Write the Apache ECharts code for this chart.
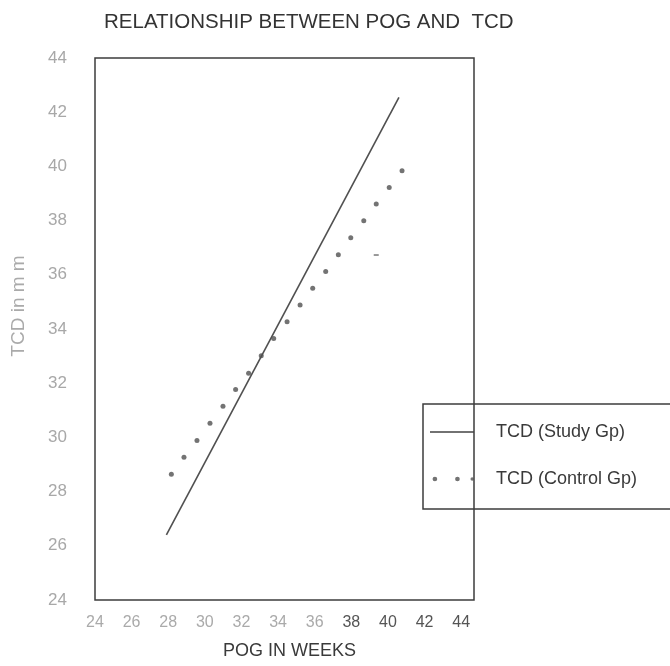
<!DOCTYPE html>
<html>
<head>
<meta charset="utf-8">
<script src="https://cdn.jsdelivr.net/npm/echarts@6/dist/echarts.min.js"></script>
<style>
html,body{margin:0;padding:0;background:#fff;}
#chart{width:670px;height:666px;}
</style>
</head>
<body>
<div id="chart"></div>
<script>
// Data
var titleText = 'RELATIONSHIP BETWEEN POG AND  TCD';
var xName = 'POG IN WEEKS';
var yName = 'TCD in m m';
var seriesNames = ['TCD (Study Gp)', 'TCD (Control Gp)'];

// Study group regression line (POG weeks, TCD mm)
var studyX = [27.9, 40.6];
var studyY = [26.4, 42.55];

// Control group dotted line (POG weeks, TCD mm)
var controlX = [28.17, 28.86, 29.57, 30.28, 30.99, 31.68, 32.39, 33.08, 33.76, 34.49,
                35.20, 35.89, 36.60, 37.29, 37.97, 38.68, 39.36, 40.07, 40.77];
var controlY = [28.64, 29.27, 29.89, 30.52, 31.15, 31.77, 32.37, 33.01, 33.65, 34.27,
                34.89, 35.50, 36.12, 36.74, 37.37, 37.99, 38.61, 39.22, 39.84];

// small stray mark in the original
var strayX = [39.36];
var strayY = [36.73];

var xTicks = [24, 26, 28, 30, 32, 34, 36, 38, 40, 42, 44];
var yTicks = [24, 26, 28, 30, 32, 34, 36, 38, 40, 42, 44];

function pairs(xs, ys) { return xs.map(function (x, i) { return [x, ys[i]]; }); }

var chart = echarts.init(document.getElementById('chart'), null, {renderer: 'canvas'});
var fontFam = '"Liberation Sans", Arial, Helvetica, sans-serif';

chart.setOption({
  animation: false,
  backgroundColor: '#ffffff',
  title: {
    text: titleText,
    left: 99,
    top: 7,
    textStyle: {fontFamily: fontFam, fontSize: 20.5, fontWeight: 'normal', color: '#333'}
  },
  grid: {
    left: 95, right: 196, top: 58, bottom: 66,
    show: true, borderColor: '#3d3d3d', borderWidth: 1.5, backgroundColor: 'transparent'
  },
  legend: {
    orient: 'vertical',
    left: 423,
    top: 404,
    padding: [19, 120, 21, 7],
    itemGap: 29,
    itemWidth: 44,
    itemHeight: 16,
    borderColor: '#3d3d3d',
    borderWidth: 1.5,
    textStyle: {fontFamily: fontFam, fontSize: 18, color: '#3a3a3a', padding: [0, 0, 0, 17]},
    data: [
      {name: seriesNames[0],
       icon: 'path://M0,7.3L44,7.3L44,8.7L0,8.7Z M0,0L0.01,0Z M0,16L0.01,16Z',
       itemStyle: {color: '#444'}},
      {name: seriesNames[1],
       icon: 'path://M2.6,8a2.4,2.4 0 1,0 4.8,0a2.4,2.4 0 1,0 -4.8,0Z M25.6,8a2.4,2.4 0 1,0 4.8,0a2.4,2.4 0 1,0 -4.8,0Z M41.3,8a1.8,1.8 0 1,0 3.6,0a1.8,1.8 0 1,0 -3.6,0Z M0,0L0.01,0Z M0,16L0.01,16Z',
       itemStyle: {color: '#505050'}}
    ]
  },
  xAxis: {
    type: 'value',
    min: 24,
    max: 44.7,
    interval: 2,
    name: xName,
    nameLocation: 'middle',
    nameGap: 42,
    nameTextStyle: {fontFamily: fontFam, fontSize: 18, color: '#3a3a3a', padding: [0, 0, 0, 10]},
    axisLine: {show: false},
    axisTick: {show: false},
    splitLine: {show: false},
    axisLabel: {
      margin: 15,
      showMaxLabel: false,
      fontFamily: fontFam,
      fontSize: 16,
      color: function (v) { return v >= 38 ? '#555' : '#aaa'; },
      formatter: function (v) { return xTicks.indexOf(v) >= 0 ? String(v) : ''; }
    }
  },
  yAxis: {
    type: 'value',
    min: 24,
    max: 44,
    interval: 2,
    name: yName,
    nameLocation: 'middle',
    nameGap: 67,
    nameTextStyle: {fontFamily: fontFam, fontSize: 19, color: '#aaa', padding: [0, 0, 0, 46]},
    axisLine: {show: false},
    axisTick: {show: false},
    splitLine: {show: false},
    axisLabel: {
      margin: 28,
      fontFamily: fontFam,
      fontSize: 17,
      color: '#a8a8a8',
      formatter: function (v) { return yTicks.indexOf(v) >= 0 ? String(v) : ''; }
    }
  },
  series: [
    {
      name: seriesNames[0],
      type: 'line',
      data: pairs(studyX, studyY),
      symbol: 'none',
      lineStyle: {color: '#505050', width: 1.6},
      itemStyle: {color: '#505050'}
    },
    {
      name: seriesNames[1],
      type: 'scatter',
      data: pairs(controlX, controlY),
      symbol: 'circle',
      symbolSize: 5,
      itemStyle: {color: '#505050'}
    },
    {
      name: 'stray',
      type: 'scatter',
      data: pairs(strayX, strayY),
      symbol: 'rect',
      symbolSize: [5, 1.5],
      itemStyle: {color: '#555'},
      silent: true
    }
  ]
});
</script>
</body>
</html>
